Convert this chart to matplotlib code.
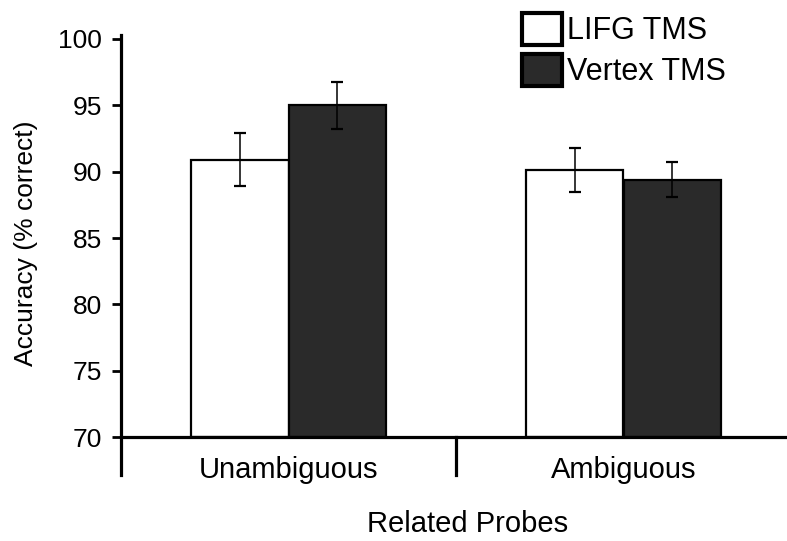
import numpy as np
import matplotlib
matplotlib.use('Agg')
import matplotlib.pyplot as plt

plt.rcParams['font.family'] = ['Liberation Sans', 'DejaVu Sans']

categories = ['Unambiguous', 'Ambiguous']
lifg = [90.9, 90.1]
lifg_err = [2.0, 1.65]
vertex = [95.0, 89.4]
vertex_err = [1.75, 1.3]

fig = plt.figure(figsize=(7.87, 5.41), dpi=100)
ax = fig.add_axes([121/787, 66/541, 670/787, 440/541])

x = np.arange(len(categories)) + 0.5
w = 0.29
b1 = ax.bar(x - w/2, np.array(lifg) - 70, w, bottom=70, color='white',
            edgecolor='black', linewidth=1.6, label='LIFG TMS', zorder=2)
b2 = ax.bar(x + w/2, np.array(vertex) - 70, w, bottom=70, color='#2a2a2a',
            edgecolor='black', linewidth=1.6, label='Vertex TMS', zorder=2)
ax.errorbar(x - w/2, lifg, yerr=lifg_err, fmt='none', ecolor='black',
            elinewidth=1.1, capsize=4, capthick=1.6, zorder=3)
ax.errorbar(x + w/2, vertex, yerr=vertex_err, fmt='none', ecolor='black',
            elinewidth=1.1, capsize=4, capthick=1.6, zorder=3)

ax.set_xlim(0, 2)
ax.set_ylim(67.14, 100.3)
ax.set_yticks(np.arange(70, 101, 5))
ax.set_xticks(x)
ax.set_xticklabels(categories)

ax.spines['top'].set_visible(False)
ax.spines['right'].set_visible(False)
ax.spines['bottom'].set_position(('data', 70))
ax.spines['bottom'].set_linewidth(2.3)
ax.spines['left'].set_linewidth(2.3)
ax.tick_params(axis='y', direction='out', length=6.5, width=2.0, pad=7, labelsize=19)
ax.tick_params(axis='x', length=0, pad=14, labelsize=21)

# category divider below the baseline
ax.plot([1, 1], [67.14, 70], color='black', linewidth=2.3, clip_on=False, zorder=4)

fig.text(468/787, 1 - 524/541, 'Related Probes', ha='center', va='center', fontsize=21)
fig.text(26/787, 1 - 243/541, 'Accuracy (% correct)', ha='center', va='center',
         rotation=90, fontsize=19)

leg = fig.legend(handles=[b1, b2], loc='upper left',
                 bbox_to_anchor=(522/787, 1 - 13/541), frameon=False,
                 fontsize=22, handlelength=1.3, handleheight=1.22,
                 handletextpad=0.17, labelspacing=0.25, borderpad=0,
                 borderaxespad=0)
for p in leg.get_patches():
    p.set_linewidth(3)

fig.savefig('out.png', dpi=100)
